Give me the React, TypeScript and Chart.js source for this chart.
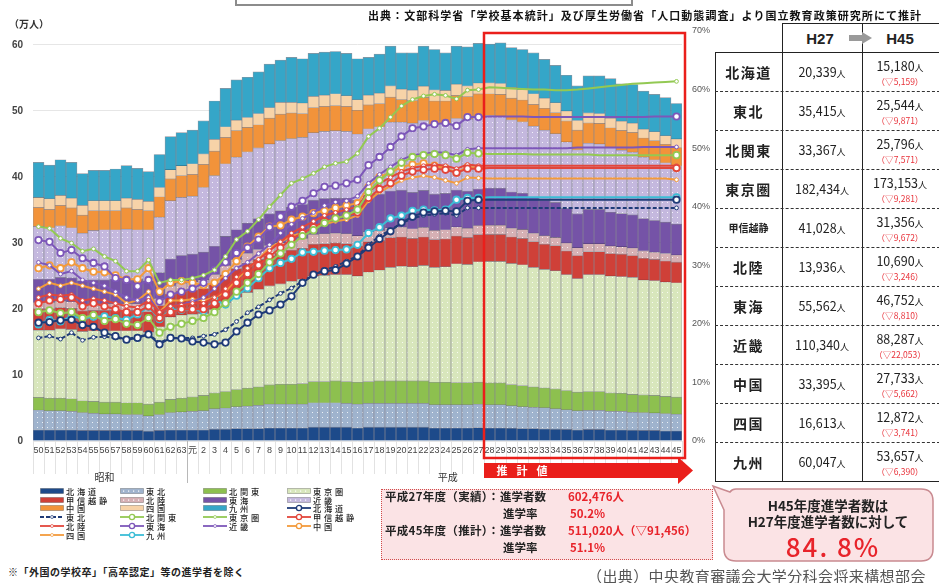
import React, { useEffect, useRef } from "react";
import { Chart, registerables } from "chart.js";

Chart.register(...registerables);

// ---------------- data ----------------
const yearLabels = ["50","51","52","53","54","55","56","57","58","59","60","61","62","63","元","2","3","4","5","6","7","8","9","10","11","12","13","14","15","16","17","18","19","20","21","22","23","24","25","26","27","28","29","30","31","32","33","34","35","36","37","38","39","40","41","42","43","44","45"];
const LAST_ACTUAL = 40; // H27
const FIRST_PROJECTED = 41; // H28

const regionNames = ["北海道","東北","北関東","東京圏","甲信越静","北陸","東海","近畿","中国","四国","九州"];

// 進学者数（万人）
const hokkaidoStudents = [1.7,1.7,1.7,1.7,1.6,1.6,1.6,1.6,1.6,1.6,1.5,1.6,1.7,1.7, 1.7,1.7,1.8,1.8,1.9,1.9,1.9,2.0,2.0,2.0,2.0,2.1,2.1,2.1,2.1,2.0,2.1,2.1,2.1,2.1,2.1,2.1,2.0,2.0,2.0,2.0,2.03, 2.0,2.0,1.95,1.9,1.9,1.85,1.8,1.75,1.7,1.75,1.75,1.7,1.7,1.65,1.6,1.6,1.55,1.52];
const tohokuStudents = [3.0,2.9,2.9,2.8,2.7,2.6,2.5,2.5,2.4,2.4,2.3,2.4,2.6,2.7, 2.8,2.9,3.1,3.2,3.3,3.4,3.5,3.6,3.6,3.6,3.6,3.7,3.7,3.7,3.6,3.6,3.6,3.6,3.6,3.6,3.6,3.6,3.5,3.5,3.5,3.5,3.54, 3.5,3.5,3.4,3.3,3.2,3.2,3.1,3.0,2.9,2.9,2.9,2.8,2.8,2.7,2.7,2.65,2.6,2.55];
const kitakantoStudents = [1.9,1.9,1.9,1.9,1.8,1.8,1.8,1.8,1.8,1.8,1.8,1.9,2.0,2.1, 2.2,2.3,2.4,2.5,2.6,2.7,2.8,2.9,3.0,3.0,3.1,3.2,3.2,3.3,3.3,3.3,3.3,3.4,3.4,3.4,3.4,3.4,3.4,3.4,3.35,3.35,3.34, 3.3,3.3,3.2,3.2,3.1,3.0,3.0,2.9,2.8,2.85,2.85,2.8,2.75,2.7,2.7,2.65,2.6,2.58];
const tokyoStudents = [10.2,10.3,10.5,10.5,10.5,10.7,10.8,10.8,10.9,10.9,10.9,11.4,12.5,12.6, 12.5,12.4,12.6,13.5,14.0,14.5,14.8,15.0,15.2,15.6,15.8,16.0,16.1,16.1,16.2,16.1,16.6,16.8,17.2,17.4,17.3,17.5,17.4,17.5,18.0,17.9,18.24, 18.4,18.4,18.35,18.3,18.1,17.95,17.9,17.55,17.2,17.7,17.7,17.7,17.65,17.75,17.4,17.4,17.35,17.32];
const koshinetsuStudents = [3.2,3.2,3.2,3.2,3.1,3.1,3.1,3.1,3.1,3.1,3.1,3.2,3.5,3.6, 3.7,3.8,4.0,4.2,4.3,4.4,4.5,4.6,4.7,4.7,4.7,4.8,4.8,4.8,4.7,4.6,4.6,4.5,4.5,4.4,4.3,4.3,4.2,4.2,4.2,4.1,4.10, 4.1,4.1,4.0,4.0,3.9,3.8,3.8,3.6,3.5,3.5,3.5,3.4,3.4,3.3,3.3,3.2,3.2,3.14];
const hokurikuStudents = [1.0,1.0,1.0,1.0,1.0,1.0,1.0,1.0,1.0,1.0,1.0,1.1,1.2,1.2, 1.2,1.3,1.3,1.4,1.4,1.5,1.5,1.5,1.5,1.5,1.5,1.5,1.5,1.5,1.5,1.5,1.5,1.5,1.5,1.5,1.45,1.45,1.4,1.4,1.4,1.4,1.39, 1.4,1.4,1.35,1.35,1.3,1.3,1.25,1.2,1.2,1.2,1.2,1.15,1.15,1.15,1.1,1.1,1.1,1.07];
const tokaiStudents = [3.5,3.5,3.6,3.6,3.6,3.6,3.6,3.7,3.7,3.7,3.7,3.9,4.1,4.2, 4.2,4.2,4.3,4.4,4.5,4.6,4.7,4.8,4.9,5.0,5.1,5.2,5.3,5.3,5.4,5.4,5.5,5.5,5.6,5.6,5.5,5.6,5.5,5.5,5.6,5.6,5.56, 5.6,5.6,5.5,5.5,5.4,5.4,5.3,5.2,5.1,5.2,5.2,5.1,5.0,5.0,4.9,4.8,4.75,4.68];
const kinkiStudents = [8.0,7.8,7.8,7.6,7.2,7.5,7.6,7.5,7.6,7.5,7.7,8.4,8.8,8.8, 8.8,9.8,10.7,11.0,11.0,10.8,10.7,10.6,10.6,10.4,10.2,10.2,10.2,10.2,10.1,10.0,10.1,10.2,10.4,10.3,10.5,10.6,10.6,10.6,10.8,10.9,11.03, 11.0,10.9,10.9,10.8,10.8,10.6,10.4,10.1,9.7,10.0,9.9,9.8,9.6,9.5,9.3,9.2,9.0,8.83];
const chugokuStudents = [2.9,2.8,3.1,3.0,2.7,3.0,2.9,2.9,3.2,3.1,2.9,3.1,3.3,3.3, 3.3,3.5,3.7,4.0,4.0,3.7,3.5,3.9,4.0,3.9,3.6,3.8,3.8,3.8,3.8,3.6,3.6,3.5,3.8,3.4,3.4,3.5,3.5,3.4,3.5,3.4,3.34, 3.3,3.3,3.3,3.3,3.3,3.3,3.2,3.2,3.0,3.1,3.1,3.0,3.0,3.0,2.9,2.9,2.8,2.77];
const shikokuStudents = [1.5,1.6,1.5,1.5,1.5,1.5,1.5,1.5,1.5,1.5,1.4,1.4,1.4,1.5, 1.6,1.6,1.8,1.6,1.6,1.5,1.7,1.6,1.8,1.6,1.6,1.7,1.7,1.8,1.6,1.6,1.5,1.6,1.7,1.6,1.6,1.7,1.7,1.6,1.7,1.65,1.66, 1.65,1.65,1.6,1.6,1.6,1.55,1.5,1.5,1.45,1.5,1.5,1.45,1.4,1.4,1.35,1.35,1.3,1.29];
const kyushuStudents = [5.3,5.1,5.4,5.4,4.8,4.6,4.6,4.8,4.9,4.7,4.5,5.0,5.0,5.0, 5.1,5.0,5.8,5.8,6.1,6.1,6.3,6.6,6.4,6.8,6.7,6.5,6.5,6.4,6.4,6.2,5.7,5.9,6.0,5.5,5.65,6.05,6.1,5.7,5.75,5.9,6.00, 5.85,6.15,6.05,6.05,6.2,5.85,5.65,5.4,5.25,5.6,5.7,6.0,5.65,5.85,5.75,5.65,5.75,5.37];

// 進学率（%）
const hokkaidoRate = [20.2,20.3,20.6,20.7,19.8,19.5,18.5,17.9,17.3,17.6,18.2,16.5,17.6,17.5, 17.0,16.8,16.5,16.8,18.7,20.2,21.6,22.3,23.3,24.7,27.0,28.4,29.0,29.2,30.3,31.5,33.0,34.5,35.8,37.3,38.3,39.0,39.2,39.3,39.2,41.0,41.2, 41.2,41.2,41.2,41.2,41.2,41.2,41.2,41.2,41.2,41.2,41.2,41.2,41.2,41.2,41.2,41.2,41.2,41.2];
const tohokuRate = [17.6,17.9,17.4,18.5,17.2,17.7,17.8,17.6,17.4,17.8,18.2,16.8,17.6,17.6, 17.6,17.9,18.2,19.0,20.4,21.9,22.9,24.1,25.2,26.1,27.3,28.3,29.2,29.8,30.7,31.6,33.5,35.0,36.0,37.2,38.0,38.5,38.7,38.9,38.5,39.8,39.8, 39.8,39.8,39.8,39.8,39.8,39.8,39.8,39.8,39.8,39.8,39.8,39.8,39.8,39.8,39.8,39.8,39.8,39.8];
const kitakantoRate = [22.0,22.3,21.8,22.0,21.0,21.5,20.5,20.8,20.0,19.8,21.0,18.5,19.5,20.0, 20.5,21.0,22.0,23.5,25.5,27.0,28.5,30.5,32.0,33.5,35.0,36.0,37.2,38.0,38.5,39.5,42.5,44.5,46.0,47.5,48.5,48.8,49.0,48.8,48.2,49.2,49.1, 49.0,49.0,49.0,49.0,48.9,48.9,48.9,48.9,48.9,48.9,48.8,48.8,48.8,48.8,48.8,48.8,48.8,48.8];
const tokyoRate = [36.6,36.3,34.6,33.8,32.4,32.8,31.5,30.7,29.0,29.0,30.9,27.0,27.5,27.5, 27.8,28.3,29.2,31.5,34.4,35.8,37.8,40.0,42.0,44.0,44.8,45.7,46.8,47.4,47.7,49.1,52.0,53.4,55.3,57.2,58.3,58.9,59.2,59.0,58.4,59.9,60.0, 60.4,60.3,60.2,60.1,60.0,60.0,59.9,59.9,60.0,60.2,60.4,60.6,60.8,61.0,61.1,61.2,61.3,61.4];
const koshinetsuRate = [23.5,24.0,24.2,24.5,23.0,23.5,23.0,22.5,22.0,22.0,23.0,21.0,22.0,22.5, 22.5,22.5,23.5,25.0,27.0,28.5,30.0,31.5,33.0,34.5,35.5,36.5,37.5,38.0,38.5,39.0,41.5,43.0,44.0,45.3,46.0,46.3,46.5,46.3,45.8,46.5,46.5, 46.6,46.6,46.6,46.6,46.6,46.6,46.6,46.6,46.6,46.6,46.6,46.6,46.6,46.6,46.6,46.6,46.6,46.6];
const hokurikuRate = [24.5,25.0,24.8,25.0,24.0,24.3,24.0,23.5,23.0,22.8,24.0,22.0,23.0,23.2, 23.5,23.5,24.5,26.0,28.0,29.5,31.0,32.5,34.0,35.5,36.5,37.5,38.5,39.0,39.5,40.0,42.5,44.0,45.0,46.0,46.6,47.0,47.2,47.0,46.5,47.2,47.0, 47.0,47.0,47.0,47.0,47.0,47.0,47.0,47.0,47.0,47.0,47.0,47.0,47.0,47.0,47.0,47.0,47.0,47.0];
const tokaiRate = [34.3,34.0,32.1,32.6,31.2,30.4,29.8,27.8,27.5,26.4,27.5,23.8,25.0,25.5, 26.0,27.0,29.2,30.5,32.1,33.0,34.4,36.5,38.3,40.0,41.0,42.3,43.4,43.6,44.0,44.6,47.1,48.5,50.2,52.0,53.4,53.7,54.1,54.3,53.8,55.3,55.3, 55.4,55.4,55.4,55.4,55.3,55.3,55.3,55.3,55.3,55.3,55.3,55.3,55.3,55.3,55.3,55.4,55.4,55.4];
const kinkiRate = [30.5,30.0,28.5,29.0,27.5,27.0,26.5,25.5,24.5,24.0,24.5,22.0,23.0,23.3, 23.8,24.5,26.0,27.8,29.5,30.5,32.0,33.5,35.5,37.0,38.0,39.0,40.2,40.8,41.0,41.8,44.0,45.5,46.8,48.0,48.8,49.0,49.3,49.2,48.8,49.8,50.0, 50.0,50.0,50.0,50.0,50.0,50.0,50.0,50.0,50.1,50.1,50.1,50.1,50.1,50.1,50.2,50.2,50.2,50.2];
const chugokuRate = [29.5,30.0,29.5,30.5,29.5,28.9,28.8,28.3,27.6,27.6,29.5,25.5,27.0,27.3, 27.0,26.6,27.0,28.5,30.7,33.2,34.9,36.6,36.8,37.8,38.3,38.9,39.3,39.8,40.2,40.6,43.4,45.1,45.8,46.8,47.2,47.4,47.0,46.6,45.8,46.8,46.6, 46.6,46.6,46.6,46.6,46.6,46.6,46.6,46.6,46.6,46.6,46.6,46.6,46.6,46.6,46.6,46.6,46.6,46.6];
const shikokuRate = [26.0,27.0,26.5,27.0,26.5,26.0,25.5,25.0,23.5,24.0,25.5,22.0,24.0,24.0, 24.2,24.0,24.5,25.5,27.5,29.5,31.0,33.0,34.0,35.0,35.5,36.5,37.0,37.5,37.8,38.5,41.0,42.5,43.5,44.5,45.0,45.3,45.0,44.5,44.0,45.0,44.9, 44.8,44.8,44.8,44.8,44.8,44.8,44.8,44.8,44.8,44.8,44.8,44.8,44.8,44.8,44.8,44.8,44.8,44.6];
const kyushuRate = [19.9,20.7,20.4,21.3,20.9,21.2,21.3,21.0,20.7,21.6,22.9,20.8,22.4,22.4, 22.5,22.1,24.1,23.3,24.8,26.1,27.8,29.5,30.4,31.1,32.2,32.3,32.5,32.6,32.7,33.5,35.5,36.5,38.0,38.5,39.3,39.5,39.4,39.5,41.2,41.5,41.5, 41.6,41.6,41.6,41.6,41.6,41.6,41.6,41.6,41.6,41.6,41.6,41.6,41.6,41.6,41.6,41.6,41.6,41.6];

// table values (人)
const h27Counts = [20339, 35415, 33367, 182434, 41028, 13936, 55562, 110340, 33395, 16613, 60047];
const h45Counts = [15180, 25544, 25796, 173153, 31356, 10690, 46752, 88287, 27733, 12872, 53657];
const decreaseCounts = [5159, 9871, 7571, 9281, 9672, 3246, 8810, 22053, 5662, 3741, 6390];

const actualTotal = 602476;
const actualRate = 50.2;
const projectedTotal = 511020;
const projectedRate = 51.1;
const totalDecrease = 91456;
const ratioPct = "84. 8%";

const studentSeries = [hokkaidoStudents, tohokuStudents, kitakantoStudents, tokyoStudents, koshinetsuStudents, hokurikuStudents, tokaiStudents, kinkiStudents, chugokuStudents, shikokuStudents, kyushuStudents];
const rateSeries = [hokkaidoRate, tohokuRate, kitakantoRate, tokyoRate, koshinetsuRate, hokurikuRate, tokaiRate, kinkiRate, chugokuRate, shikokuRate, kyushuRate];

// ---------------- styles ----------------
const barColors = ["#1d4a8a", "#9fb3cd", "#8dc04f", "#d8e6bc", "#cf4038", "#d6b0b4", "#7553a7", "#c4b8de", "#f2933a", "#f7d3a8", "#35a6c8"];
const dottedBar = [false, true, false, true, false, true, false, true, false, false, false];
const lineColors = ["#1f3b78", "#1f3b78", "#93c953", "#93c953", "#e2463b", "#e2463b", "#7d57b9", "#7d57b9", "#f39a3b", "#f39a3b", "#3cbdd6"];
const ringMarker = [true, false, true, false, true, false, true, false, true, false, true];

const JP = "'Noto Sans CJK JP', 'Noto Sans', sans-serif";

function makePattern(color) {
  const c = document.createElement("canvas");
  c.width = 5;
  c.height = 5;
  const g = c.getContext("2d");
  g.fillStyle = color;
  g.fillRect(0, 0, 5, 5);
  g.fillStyle = "rgba(255,255,255,0.8)";
  g.fillRect(2, 2, 1, 1);
  return g.createPattern(c, "repeat");
}

const overlayPlugin = {
  id: "overlay",
  beforeDatasetsDraw(chart) {
    const { ctx, chartArea } = chart;
    const x = chart.scales.x;
    const step = x.getPixelForValue(1) - x.getPixelForValue(0);
    ctx.save();
    ctx.strokeStyle = "#e2e2e2";
    ctx.lineWidth = 1;
    for (let i = 0; i <= yearLabels.length; i++) {
      const px = Math.round(x.getPixelForValue(0) - step / 2 + i * step) + 0.5;
      ctx.beginPath();
      ctx.moveTo(px, chartArea.bottom);
      ctx.lineTo(px, chartArea.bottom + 33);
      ctx.stroke();
    }
    const sep = Math.round(x.getPixelForValue(14) - step / 2) + 0.5;
    ctx.strokeStyle = "#b8b8b8";
    ctx.beginPath();
    ctx.moveTo(sep, chartArea.bottom);
    ctx.lineTo(sep, chartArea.bottom + 42);
    ctx.stroke();
    ctx.fillStyle = "#333";
    ctx.font = `10px ${JP}`;
    ctx.textAlign = "center";
    ctx.textBaseline = "middle";
    ctx.fillText("昭和", x.getPixelForValue(6), chartArea.bottom + 36);
    ctx.fillText("平成", x.getPixelForValue(37.2), chartArea.bottom + 36);
    ctx.restore();
  },
  afterDatasetsDraw(chart) {
    const { ctx, chartArea } = chart;
    const x = chart.scales.x;
    const step = x.getPixelForValue(1) - x.getPixelForValue(0);
    const left = x.getPixelForValue(FIRST_PROJECTED) - step / 2;
    const right = x.getPixelForValue(yearLabels.length - 1) + step / 2 + 3;
    ctx.save();
    ctx.strokeStyle = "#ea1f1b";
    ctx.lineWidth = 2.5;
    ctx.strokeRect(left, chartArea.top + 2, right - left, chartArea.bottom + 17 - (chartArea.top + 2));
    const ay = chartArea.bottom + 22;
    const tipX = right + 8;
    ctx.fillStyle = "#ea1f1b";
    ctx.fillRect(left, ay, tipX - 14 - left, 15);
    ctx.beginPath();
    ctx.moveTo(tipX - 15, ay - 6);
    ctx.lineTo(tipX, ay + 7.5);
    ctx.lineTo(tipX - 15, ay + 21);
    ctx.closePath();
    ctx.fill();
    ctx.fillStyle = "#fff";
    ctx.font = `bold 11px ${JP}`;
    ctx.textAlign = "center";
    ctx.textBaseline = "middle";
    ["推", "計", "値"].forEach((ch, i) => ctx.fillText(ch, left + 18 + i * 20, ay + 8));
    ctx.restore();
  },
};

function T({ x, y, children, size = 11, color = "#222", weight = 400, align = "left", ls = 0, family = JP }) {
  const tx = align === "center" ? "-50%" : align === "right" ? "-100%" : "0";
  return (
    <div
      style={{
        position: "absolute",
        left: x,
        top: y,
        transform: `translate(${tx}, -50%)`,
        fontSize: size,
        color,
        fontWeight: weight,
        letterSpacing: ls,
        whiteSpace: "nowrap",
        lineHeight: 1,
        fontFamily: family,
      }}
    >
      {children}
    </div>
  );
}

function Line({ x, y, w = 0, h = 0, style = "solid", width = 1.5, color = "#222" }) {
  const horizontal = h === 0;
  return (
    <div
      style={{
        position: "absolute",
        left: x,
        top: y,
        width: horizontal ? w : 0,
        height: horizontal ? 0 : h,
        borderTop: horizontal ? `${width}px ${style} ${color}` : undefined,
        borderLeft: horizontal ? undefined : `${width}px ${style} ${color}`,
      }}
    />
  );
}

const fmt = (n) => n.toLocaleString("en-US");

function RegionTable() {
  const L = 715, C2 = 782, C3 = 862, R = 940, HT = 23, BT = 52, RH = 39;
  const rows = regionNames.length;
  const bottom = BT + RH * rows;
  const els = [];
  els.push(<Line key="ht" x={C2} y={HT} w={R - C2} />);
  els.push(<Line key="bt" x={L} y={BT} w={R - L} />);
  els.push(<Line key="bb" x={L} y={bottom} w={R - L} />);
  els.push(<Line key="v1" x={L} y={BT} h={bottom - BT} />);
  els.push(<Line key="v2" x={C2} y={HT} h={bottom - HT} />);
  els.push(<Line key="v3" x={C3} y={HT} h={bottom - HT} />);
  for (let i = 1; i < rows; i++) {
    els.push(<Line key={"d" + i} x={L} y={BT + RH * i} w={R - L} style="dashed" width={1} color="#333" />);
  }
  els.push(<T key="h27" x={(C2 + C3) / 2 - 2} y={38} size={15} weight={700} align="center" family="'Liberation Sans', sans-serif">H27</T>);
  els.push(<T key="h45" x={900} y={38} size={15} weight={700} align="center" family="'Liberation Sans', sans-serif">H45</T>);
  els.push(
    <svg key="arr" style={{ position: "absolute", left: 849, top: 32 }} width={24} height={12}>
      <rect x={0} y={3} width={14} height={6} fill="#9a9a9a" />
      <polygon points="13,0 23,6 13,12" fill="#9a9a9a" />
    </svg>
  );
  regionNames.forEach((name, i) => {
    const top = BT + RH * i;
    const small = name.length >= 4;
    els.push(
      <T key={"n" + i} x={(L + C2) / 2} y={top + RH / 2} size={small ? 10 : 14} weight={700} align="center" ls={small ? 0 : 1.5}>
        {name}
      </T>
    );
    els.push(
      <T key={"a" + i} x={(C2 + C3) / 2} y={top + RH / 2} size={12.5} align="center" color="#222">
        {fmt(h27Counts[i])}
        <span style={{ fontSize: 9 }}>人</span>
      </T>
    );
    els.push(
      <T key={"b" + i} x={900} y={top + 14} size={12.5} align="center" color="#222">
        {fmt(h45Counts[i])}
        <span style={{ fontSize: 9 }}>人</span>
      </T>
    );
    els.push(
      <T key={"c" + i} x={900} y={top + 29} size={8.5} align="center" color="#e8323a">
        （▽{fmt(decreaseCounts[i])}）
      </T>
    );
  });
  return <>{els}</>;
}

function LegendSwatch({ kind, i }) {
  if (kind === "bar") {
    return (
      <svg width={24} height={8} style={{ display: "block" }}>
        <rect x={0.5} y={1.5} width={23} height={5} fill={barColors[i]} stroke="rgba(0,0,0,0.3)" strokeWidth={0.8} />
        {dottedBar[i] ? [3, 8, 13, 18].map((dx) => <rect key={dx} x={dx} y={3.5} width={1.2} height={1.2} fill="#fff" />) : null}
      </svg>
    );
  }
  return (
    <svg width={24} height={8} style={{ display: "block" }}>
      <line x1={0} y1={4} x2={24} y2={4} stroke={lineColors[i]} strokeWidth={1.8} strokeDasharray={i === 1 ? "4 2" : undefined} />
      {ringMarker[i] ? (
        <circle cx={12} cy={4} r={2.6} fill="#fff" stroke={lineColors[i]} strokeWidth={1.4} />
      ) : (
        <circle cx={12} cy={4} r={1.5} fill="#fff" stroke={lineColors[i]} strokeWidth={0.7} />
      )}
    </svg>
  );
}

function Legend() {
  const colX = [40, 120, 203, 287];
  const rowY0 = 491;
  const rowStep = 8.7;
  const items = [
    ...regionNames.map((n, i) => ({ kind: "bar", i, name: n })),
    ...regionNames.map((n, i) => ({ kind: "line", i, name: n })),
  ];
  return (
    <>
      {items.map((it, k) => {
        const cx = colX[k % 4];
        const cy = rowY0 + Math.floor(k / 4) * rowStep;
        return (
          <React.Fragment key={k}>
            <div style={{ position: "absolute", left: cx, top: cy - 4 }}>
              <LegendSwatch kind={it.kind} i={it.i} />
            </div>
            <T x={cx + 26} y={cy} size={8.2} ls={2.8} color="#222" weight={500}>
              {it.name}
            </T>
          </React.Fragment>
        );
      })}
    </>
  );
}

export default function App() {
  const canvasRef = useRef(null);

  useEffect(() => {
    document.body.style.margin = "0";
    const canvas = canvasRef.current;
    const barDatasets = regionNames.map((name, i) => ({
      type: "bar",
      label: name,
      data: studentSeries[i],
      backgroundColor: dottedBar[i] ? makePattern(barColors[i]) : barColors[i],
      borderColor: "rgba(40,40,60,0.5)",
      borderWidth: { top: 0.7, left: 0.7, right: 0.7, bottom: 0 },
      borderSkipped: false,
      barPercentage: 1,
      categoryPercentage: 1,
      stack: "students",
      yAxisID: "y",
      order: 2,
    }));
    const lineDatasets = regionNames.map((name, i) => ({
      type: "line",
      label: name + "（進学率）",
      data: rateSeries[i],
      yAxisID: "y1",
      order: 1,
      borderColor: lineColors[i],
      borderWidth: 2,
      borderDash: i === 1 ? [4, 2] : [],
      tension: 0,
      fill: false,
      pointStyle: "circle",
      pointRadius: (c) =>
        c.dataIndex <= LAST_ACTUAL || c.dataIndex === yearLabels.length - 1 ? (ringMarker[i] ? 3.2 : 1.9) : 0,
      pointBackgroundColor: "#fff",
      pointBorderColor: lineColors[i],
      pointBorderWidth: ringMarker[i] ? 1.8 : 1,
    }));

    const chart = new Chart(canvas, {
      type: "bar",
      data: { labels: yearLabels, datasets: [...barDatasets, ...lineDatasets] },
      options: {
        animation: false,
        responsive: false,
        devicePixelRatio: 1,
        layout: { padding: { top: 31, bottom: 0, left: 0, right: 0 } },
        plugins: { legend: { display: false }, tooltip: { enabled: false } },
        scales: {
          x: {
            stacked: true,
            offset: true,
            grid: { display: false, drawTicks: false },
            border: { display: false },
            ticks: {
              autoSkip: false,
              maxRotation: 0,
              minRotation: 0,
              padding: 4,
              color: "#444",
              font: { size: 9, family: "'Liberation Sans', 'Noto Sans CJK JP', sans-serif" },
            },
            afterFit: (s) => {
              s.height = 49;
            },
          },
          y: {
            stacked: true,
            min: 0,
            max: 62.1,
            position: "left",
            grid: { color: "#e6e6e6", drawTicks: false },
            border: { display: false },
            ticks: {
              stepSize: 10,
              padding: 10,
              color: "#444",
              font: { size: 10, weight: "bold", family: "'Liberation Sans', sans-serif" },
            },
            afterBuildTicks: (s) => {
              s.ticks = s.ticks.filter((t) => t.value % 10 === 0);
            },
            afterFit: (s) => {
              s.width = 33;
            },
          },
          y1: {
            min: 0,
            max: 70,
            position: "right",
            grid: { drawOnChartArea: false, drawTicks: false },
            border: { display: false },
            ticks: {
              stepSize: 10,
              padding: 10,
              color: "#555",
              callback: (v) => v + "%",
              font: { size: 9, family: "'Liberation Sans', sans-serif" },
            },
            afterFit: (s) => {
              s.width = 33;
            },
          },
        },
      },
      plugins: [overlayPlugin],
    });
    return () => chart.destroy();
  }, []);

  return (
    <div style={{ position: "relative", width: 939, height: 583, overflow: "hidden", background: "#fff", fontFamily: JP }}>
      <canvas ref={canvasRef} width={715} height={490} style={{ position: "absolute", left: 0, top: 0, width: 715, height: 490 }} />

      <div style={{ position: "absolute", left: 235, top: -12, width: 394, height: 14, border: "2px solid #8c8c8c" }} />
      <T x={368} y={15} size={11} weight={700} ls={1.05} color="#111">
        出典：文部科学省「学校基本統計」及び厚生労働省「人口動態調査」より国立教育政策研究所にて推計
      </T>
      <T x={9} y={24} size={10} weight={700} color="#333">（万人）</T>

      <RegionTable />
      <Legend />

      <T x={8} y={572} size={10} weight={700} ls={0.5} color="#222">
        ※「外国の学校卒」「高卒認定」等の進学者を除く
      </T>

      <div style={{ position: "absolute", left: 381, top: 489, width: 330, height: 69, background: "#fbe3e5", border: "1.5px dotted #d24b4b" }} />
      <T x={385} y={497} size={11.5} weight={700} ls={0.3}>平成27年度（実績）：</T>
      <T x={500} y={497} size={11.5} weight={700}>進学者数</T>
      <T x={568} y={497} size={11.5} weight={700} color="#e8232a">{fmt(actualTotal)}人</T>
      <T x={503} y={514} size={11.5} weight={700}>進学率</T>
      <T x={570} y={514} size={11.5} weight={700} color="#e8232a">{actualRate}%</T>
      <T x={385} y={531} size={11.5} weight={700} ls={0.3}>平成45年度（推計）：</T>
      <T x={500} y={531} size={11.5} weight={700}>進学者数</T>
      <T x={568} y={531} size={11.5} weight={700} color="#e8232a">{fmt(projectedTotal)}人（▽{fmt(totalDecrease)}）</T>
      <T x={503} y={548} size={11.5} weight={700}>進学率</T>
      <T x={570} y={548} size={11.5} weight={700} color="#e8232a">{projectedRate}%</T>

      <svg style={{ position: "absolute", left: 700, top: 480 }} width={239} height={90}>
        <path d="M 36 9 H 221 Q 233 9 233 21 V 69 Q 233 81 221 81 H 36 Q 24 81 24 69 V 30 L 13 6 L 30 12 Q 32 9 36 9 Z" fill="#fbe3e5" stroke="#c98a90" strokeWidth={1.5} />
      </svg>
      <T x={828} y={506} size={13.5} weight={700} align="center">H45年度進学者数は</T>
      <T x={828} y={522} size={13.5} weight={700} align="center">H27年度進学者数に対して</T>
      <T x={833} y={546} size={26} weight={500} align="center" color="#e8232a" ls={2}>{ratioPct}</T>

      <T x={587} y={575} size={15} color="#555" ls={0.4}>（出典）中央教育審議会大学分科会将来構想部会</T>
    </div>
  );
}
